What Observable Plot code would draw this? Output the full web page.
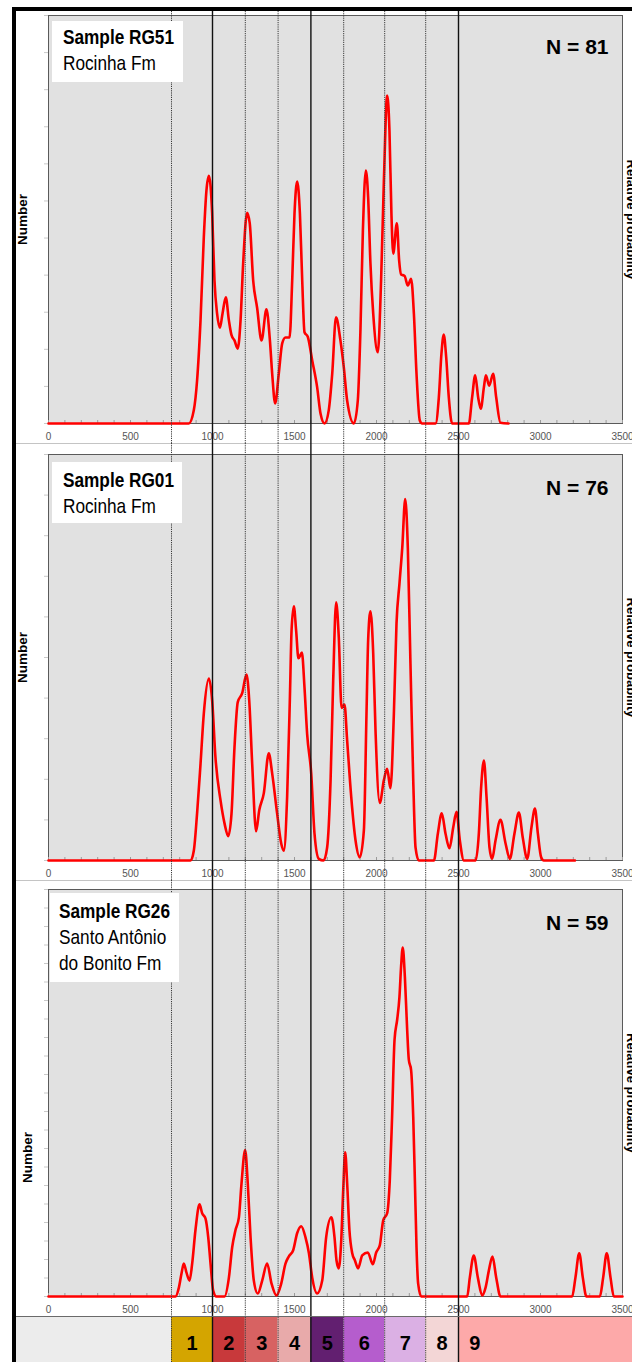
<!DOCTYPE html>
<html>
<head>
<meta charset="utf-8">
<script src="https://cdn.jsdelivr.net/npm/d3@7"></script>
<script src="https://cdn.jsdelivr.net/npm/@observablehq/plot@0.6"></script>
<style>
  html, body { margin: 0; padding: 0; background: #fff; overflow: hidden; width: 632px; height: 1362px; }
  #figure { position: absolute; left: 12px; top: 7px; width: 660px; height: 1400px;
            border-left: 4px solid #000; border-top: 4px solid #000; }
  .layer { position: absolute; left: 0; }
  .sep { position: absolute; left: 0; width: 660px; height: 1px; background: #c4c4c4; }
  .tag { position: absolute; background: #fff; color: #000; overflow: hidden;
         font-family: "Liberation Sans", Arial, sans-serif;
         font-size: 21px; line-height: 26px; box-sizing: border-box; z-index: 3; }
  /* condensed lettering */
  .tag .ln { display: block; white-space: nowrap; transform: scaleX(0.82); transform-origin: 0 50%; }
  .tag .ln.b { font-weight: bold; }
</style>
</head>
<body>
<div id="figure"></div>
<script>
// Age axis (Ma)
const xTicks = [0, 500, 1000, 1500, 2000, 2500, 3000, 3500];
const minorXTicks = d3.range(0, 3501, 100);

// Province boundaries drawn across all panels
const solidBoundaries = [1000, 1600, 2500];
const dottedBoundaries = [750, 1200, 1400, 1800, 2050, 2300];

// Age bands along the bottom strip
const bandIds = ["1", "2", "3", "4", "5", "6", "7", "8", "9"];
const bandStart = [750, 1000, 1200, 1400, 1600, 1800, 2050, 2300, 2500];
const bandEnd = [1000, 1200, 1400, 1600, 1800, 2050, 2300, 2500, null]; // last band open-ended

// Samples
const sampleIds = ["RG51", "RG01", "RG26"];
const formations = ["Rocinha Fm", "Rocinha Fm", "Santo Antônio\ndo Bonito Fm"];
const sampleN = [81, 76, 59];
const yMax = [5.5, 5, 11];

// Probability density curves (age in Ma, number)
const rg51Age = [0, 855, 886, 906, 927, 947, 963, 978, 998, 1012, 1028, 1045, 1061, 1081, 1100, 1116, 1134, 1154, 1171, 1187, 1211, 1227, 1248, 1272, 1299, 1329, 1350, 1364, 1382, 1404, 1425, 1445, 1470, 1486, 1500, 1516, 1533, 1547, 1561, 1581, 1608, 1638, 1659, 1683, 1709, 1730, 1753, 1780, 1801, 1821, 1862, 1886, 1902, 1917, 1935, 1949, 1963, 1980, 2008, 2028, 2045, 2065, 2079, 2091, 2102, 2124, 2138, 2150, 2171, 2191, 2211, 2228, 2244, 2264, 2278, 2360, 2380, 2396, 2410, 2425, 2441, 2461, 2563, 2583, 2602, 2620, 2636, 2655, 2667, 2687, 2711, 2730, 2756, 2805];
const rg51Number = [0, 0, 0.18, 0.58, 1.39, 2.51, 3.14, 3.34, 2.83, 1.93, 1.48, 1.29, 1.48, 1.70, 1.39, 1.19, 1.12, 1.01, 1.39, 2.16, 2.84, 2.70, 1.93, 1.56, 1.12, 1.54, 1.12, 0.67, 0.27, 0.67, 1.08, 1.16, 1.16, 1.93, 2.83, 3.26, 2.83, 1.93, 1.23, 1.17, 0.85, 0.49, 0.13, 0, 0.18, 0.67, 1.43, 1.12, 0.75, 0.31, 0, 0.31, 1.25, 2.60, 3.41, 3.05, 2.16, 1.48, 0.96, 1.93, 3.27, 4.42, 3.95, 2.83, 2.29, 2.70, 2.20, 2.01, 1.99, 1.86, 1.95, 1.48, 0.67, 0.04, 0, 0, 0.35, 0.94, 1.20, 0.89, 0.35, 0, 0, 0.35, 0.65, 0.35, 0.20, 0.49, 0.65, 0.51, 0.67, 0.35, 0.01, 0];

const rg01Age = [0, 866, 886, 906, 927, 947, 978, 998, 1018, 1049, 1073, 1096, 1116, 1134, 1154, 1181, 1207, 1224, 1242, 1266, 1285, 1313, 1343, 1364, 1394, 1419, 1435, 1455, 1472, 1482, 1496, 1510, 1524, 1545, 1561, 1577, 1602, 1622, 1648, 1677, 1699, 1720, 1736, 1754, 1770, 1787, 1805, 1821, 1846, 1872, 1898, 1923, 1939, 1949, 1963, 1980, 1994, 2020, 2045, 2065, 2085, 2106, 2122, 2140, 2157, 2175, 2191, 2207, 2224, 2238, 2258, 2350, 2374, 2398, 2421, 2445, 2468, 2488, 2508, 2533, 2604, 2624, 2638, 2655, 2671, 2689, 2705, 2726, 2756, 2787, 2813, 2841, 2868, 2892, 2919, 2945, 2966, 2984, 3004, 3020, 3210];
const rg01Number = [0, 0, 0.12, 0.58, 1.19, 1.81, 2.24, 1.97, 1.27, 0.74, 0.46, 0.30, 0.58, 1.39, 1.95, 2.06, 2.29, 1.97, 1.19, 0.36, 0.62, 0.83, 1.32, 1.07, 0.58, 0.21, 0.12, 0.78, 2.01, 2.83, 3.13, 2.83, 2.49, 2.56, 2.13, 1.56, 1.07, 0.33, 0.02, 0, 0.16, 0.99, 2.22, 3.18, 2.75, 1.88, 1.92, 1.48, 0.78, 0.25, 0.04, 0.37, 1.81, 2.71, 3.07, 2.55, 1.60, 0.71, 0.99, 1.13, 0.89, 1.81, 2.92, 3.41, 3.85, 4.45, 3.85, 2.43, 0.99, 0.16, 0, 0, 0.33, 0.58, 0.33, 0.15, 0.41, 0.60, 0.25, 0, 0, 0.33, 0.90, 1.23, 0.78, 0.16, 0.02, 0.25, 0.50, 0.21, 0.02, 0.33, 0.59, 0.28, 0.02, 0.41, 0.64, 0.33, 0.04, 0, 0];

const rg26Age = [0, 774, 795, 811, 825, 841, 860, 876, 896, 921, 937, 957, 974, 988, 1004, 1024, 1073, 1100, 1120, 1140, 1161, 1177, 1199, 1215, 1232, 1252, 1276, 1303, 1333, 1360, 1390, 1419, 1445, 1465, 1492, 1516, 1541, 1567, 1588, 1608, 1638, 1669, 1693, 1725, 1744, 1756, 1770, 1785, 1797, 1809, 1821, 1835, 1852, 1868, 1888, 1913, 1947, 1978, 1998, 2020, 2041, 2065, 2081, 2095, 2110, 2126, 2140, 2150, 2160, 2173, 2187, 2197, 2211, 2224, 2234, 2244, 2254, 2273, 2553, 2569, 2593, 2618, 2644, 2665, 2685, 2707, 2730, 2756, 3193, 3213, 3236, 3258, 3280, 3362, 3382, 3404, 3427, 3447, 3500];
const rg26Number = [0, 0, 0.24, 0.62, 0.89, 0.65, 0.43, 0.89, 1.79, 2.49, 2.25, 2.11, 1.60, 0.89, 0.16, 0, 0, 0.51, 1.33, 1.79, 2.14, 3.06, 3.96, 3.06, 1.60, 0.43, 0.08, 0.43, 0.89, 0.35, 0.03, 0.35, 0.89, 1.08, 1.25, 1.71, 1.90, 1.60, 1.17, 0.51, 0.08, 0.43, 1.60, 2.14, 1.60, 0.98, 0.76, 1.52, 2.87, 3.90, 3.06, 1.79, 1.17, 0.98, 0.76, 1.11, 1.19, 0.87, 1.19, 1.38, 2.06, 2.25, 3.14, 4.85, 6.94, 7.48, 8.10, 8.92, 9.43, 8.64, 7.21, 6.40, 6.12, 4.85, 3.14, 1.33, 0.35, 0, 0, 0.51, 1.11, 0.51, 0.03, 0.24, 0.70, 1.08, 0.51, 0, 0, 0.51, 1.17, 0.51, 0, 0, 0.51, 1.17, 0.51, 0, 0];

const curveAges = [rg51Age, rg01Age, rg26Age];
const curveNumbers = [rg51Number, rg01Number, rg26Number];

// ---- presentation ----
const bandPalette = ["#d4a500", "#c8393b", "#d76262", "#e8aaaa", "#621f70", "#b55dcd", "#dbb0e4", "#f3d6d6", "#fda9a9"];
const sansFont = "'Liberation Sans', Arial, sans-serif";
const W = 630, ML = 32, MR = 24, MB = 20;
const layout = [
  {top: 0,   height: 432, mt: 4,  nDy: 23.3, numDx: -25.5, numDy: 0,    tag: {left: 36, top: 10,  w: 131, h: 61, pt: 3, pl: 11}},
  {top: 432, height: 437, mt: 11, nDy: 26,   numDx: -25.5, numDy: 0,    tag: {left: 36, top: 451, w: 130, h: 61, pt: 5, pl: 11}},
  {top: 869, height: 436, mt: 9,  nDy: 26,   numDx: -21,   numDy: 64.5, tag: {left: 34, top: 882, w: 129, h: 89, pt: 5, pl: 9}}
];

const fig = document.getElementById("figure");

function boundaryRules(mt, mb) {
  return [
    Plot.ruleX(dottedBoundaries, {stroke: "#3a3a3a", strokeWidth: 1, strokeDasharray: "1.2,1", insetTop: -mt, insetBottom: -mb}),
    Plot.ruleX(solidBoundaries, {stroke: "#111", strokeWidth: 1.4, insetTop: -mt, insetBottom: -mb})
  ];
}

function panel(i) {
  const L = layout[i];
  const data = curveAges[i].map((a, j) => ({age: a, n: curveNumbers[i][j]}));
  const yTicks = d3.range(0, yMax[i] + 1e-9, 0.5);
  return Plot.plot({
    width: W, height: L.height,
    marginLeft: ML, marginRight: MR, marginTop: L.mt, marginBottom: MB,
    x: {domain: [0, 3500]},
    y: {domain: [0, yMax[i]]},
    style: {background: "transparent", overflow: "visible", maxWidth: "none", fontFamily: sansFont},
    marks: [
      Plot.frame({fill: "#e1e1e1", stroke: "#5a5a5a"}),
      Plot.axisY({ticks: yTicks, tickSize: 4, tickFormat: () => "", color: "#c9c9c9", label: null}),
      Plot.axisX({ticks: minorXTicks, tickSize: -3, tickFormat: () => "", color: "#9a9a9a", label: null}),
      Plot.axisX({ticks: xTicks, tickSize: 0, tickPadding: 9, tickFormat: "d", fontSize: 10, color: "#555", label: null}),
      Plot.line(data, {x: "age", y: "n", stroke: "#ff0000", strokeWidth: 2.6, curve: "monotone-x"}),
      ...boundaryRules(L.mt, MB),
      Plot.text([sampleN[i]], {frameAnchor: "top-right", text: d => `N = ${d}`, dx: -14, dy: L.nDy,
        fontSize: 21, fontWeight: "bold", fill: "#000"}),
      Plot.text(["Number"], {frameAnchor: "left", rotate: -90, textAnchor: "middle", dx: L.numDx, dy: L.numDy,
        fontSize: 13.5, fontWeight: "bold", fill: "#000"}),
      Plot.text(["Relative probability"], {frameAnchor: "right", rotate: 90, textAnchor: "middle", dx: 9,
        fontSize: 13, fontWeight: "bold", fill: "#000"})
    ]
  });
}

layout.forEach((L, i) => {
  const svg = panel(i);
  svg.classList.add("layer");
  svg.style.top = L.top + "px";
  svg.style.zIndex = 1;
  if (i > 0) {
    const s = document.createElement("div");
    s.className = "sep";
    s.style.top = L.top + "px";
    s.style.zIndex = 0;
    fig.appendChild(s);
  }
  fig.appendChild(svg);
  const t = document.createElement("div");
  t.className = "tag";
  Object.assign(t.style, {left: L.tag.left + "px", top: L.tag.top + "px", width: L.tag.w + "px",
    height: L.tag.h + "px", paddingTop: L.tag.pt + "px", paddingLeft: L.tag.pl + "px"});
  const lines = [{text: "Sample " + sampleIds[i], bold: true}]
    .concat(formations[i].split("\n").map(text => ({text, bold: false})));
  for (const ln of lines) {
    const s = document.createElement("span");
    s.className = ln.bold ? "ln b" : "ln";
    s.textContent = ln.text;
    t.appendChild(s);
  }
  fig.appendChild(t);
});

// Band strip
const bands = bandIds.map((id, k) => ({
  id,
  start: bandStart[k],
  end: bandEnd[k] ?? 3600,
  labelAt: bandEnd[k] == null ? bandStart[k] + 100 : (bandStart[k] + bandEnd[k]) / 2
}));
const strip = Plot.plot({
  width: W, height: 48,
  marginLeft: ML, marginRight: MR, marginTop: 0, marginBottom: 0,
  x: {domain: [0, 3500], axis: null},
  color: {domain: bandIds, range: bandPalette},
  style: {background: "#ececec", overflow: "visible", maxWidth: "none", fontFamily: sansFont},
  marks: [
    Plot.rect(bands, {x1: "start", x2: "end", fill: "id"}),
    ...boundaryRules(0, 0),
    Plot.text(bands, {x: "labelAt", text: "id", fontSize: 20, fontWeight: "bold", fill: "#000", dy: 2})
  ]
});
strip.classList.add("layer");
strip.style.top = "1306px";
strip.style.zIndex = 1;
fig.appendChild(strip);
const stripLine = document.createElement("div");
stripLine.className = "sep";
Object.assign(stripLine.style, {top: "1305px", background: "#6a6a6a", zIndex: 2});
fig.appendChild(stripLine);
</script>
</body>
</html>
